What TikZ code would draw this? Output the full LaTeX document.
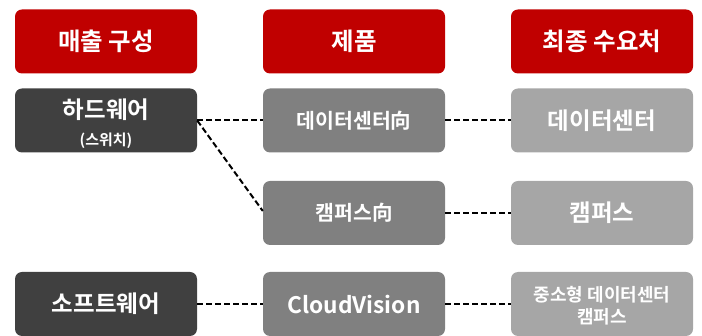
\documentclass[tikz,border=0pt]{standalone}
\usepackage{fontspec}
\setmainfont{Noto Sans CJK KR}[BoldFont={* Bold}]
\newfontfamily\krb{Noto Sans CJK KR Bold}
\definecolor{hdrred}{HTML}{C00000}
\definecolor{dark}{HTML}{404040}
\definecolor{mid}{HTML}{808080}
\definecolor{light}{HTML}{A6A6A6}
\newcommand{\fsz}[1]{\fontsize{#1}{#1}\selectfont}
\tikzset{
  box/.style={rounded corners=7pt, minimum width=182pt, minimum height=64pt, inner sep=0pt, text=white, align=center, font=\krb},
  hdr/.style={box, fill=hdrred, font=\krb\fsz{24.5}},
  lv1/.style={box, fill=dark, font=\krb\fsz{23.5}},
  lv2/.style={box, fill=mid, font=\krb\fsz{20.5}},
  lv3/.style={box, fill=light, font=\krb\fsz{23.5}},
  txt/.style={inner sep=0pt, text=white},
  link/.style={draw=black, line width=2pt, dash pattern=on 6pt off 3pt}
}
\begin{document}
\begin{tikzpicture}[x=1pt,y=-1pt]
\useasboundingbox (0,0) rectangle (702,336);
\node[hdr] (h1) at (106,41.5) {매출 구성};
\node[hdr] (h2) at (354,41.5) {제품};
\node[hdr] (h3) at (602,41.5) {최종 수요처};
\node[lv1] (hw) at (106,120.5) {};
\node[txt, font=\krb\fsz{23.5}] (hwt) at (106,109.5) {하드웨어};
\node[txt, font=\krb\fsz{15}] (hws) at (106,141) {(스위치)};
\node[lv2] (dcp) at (354,120.5) {데이터센터向};
\node[lv3] (dc) at (602,120.5) {데이터센터};
\node[lv2] (cpp) at (354,213) {캠퍼스向};
\node[lv3] (cp) at (602,213) {캠퍼스};
\node[lv1] (sw) at (106,304) {소프트웨어};
\node[lv2, font=\krb\fsz{22.7}] (cv) at (354,304) {CloudVision};
\node[lv3] (sm) at (602,304) {};
\node[txt, font=\krb\fsz{18}] (sm1) at (602,294.5) {중소형 데이터센터};
\node[txt, font=\krb\fsz{18}] (sm2) at (602,316.5) {캠퍼스};
\coordinate (hwo) at (hw.east);
\draw[link] (hwo) -- (dcp.west);
\draw[link] (hwo) -- ([yshift=2pt]cpp.west);
\draw[link] (dcp.east) -- (dc.west);
\draw[link] (cpp.east) -- (cp.west);
\draw[link] (sw.east) -- (cv.west);
\draw[link] (cv.east) -- (sm.west);
\end{tikzpicture}
\end{document}
